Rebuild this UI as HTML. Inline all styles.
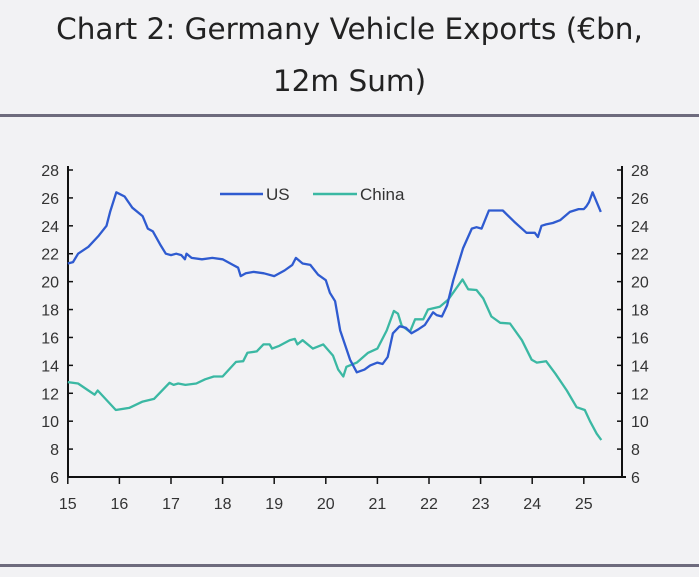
<!DOCTYPE html>
<html><head><meta charset="utf-8"><style>
body{margin:0;width:699px;height:577px;background:#f2f2f4;font-family:"Liberation Sans","DejaVu Sans",sans-serif;overflow:hidden;position:relative}
.title{position:absolute;left:0;width:699px;text-align:center;font-family:"DejaVu Sans",sans-serif;font-size:29.5px;color:#222;line-height:52px;top:3px;font-weight:normal}
.sep{position:absolute;left:0;width:699px;height:3px;background:#6e6b7d}
</style></head><body>
<div class="title">Chart 2: Germany Vehicle Exports (€bn,<br>12m Sum)</div>
<div class="sep" style="top:114px"></div>
<div class="sep" style="top:564px"></div>
<svg id="chart" width="699" height="577" style="position:absolute;left:0;top:0"></svg>
<script>
const usYears=[15.0,15.1,15.2,15.4,15.6,15.75,15.82,15.94,16.1,16.25,16.45,16.55,16.65,16.8,16.9,17.0,17.1,17.2,17.27,17.3,17.4,17.6,17.8,18.0,18.2,18.3,18.35,18.45,18.6,18.8,19.0,19.2,19.35,19.42,19.55,19.7,19.85,20.0,20.08,20.18,20.28,20.47,20.6,20.75,20.86,21.0,21.1,21.2,21.3,21.43,21.55,21.66,21.8,21.92,22.08,22.15,22.25,22.35,22.47,22.66,22.83,22.92,23.02,23.16,23.43,23.65,23.89,24.05,24.11,24.18,24.27,24.4,24.54,24.73,24.9,25.0,25.05,25.1,25.17,25.33];
const usValues=[21.3,21.4,22.0,22.5,23.3,24.0,25.0,26.4,26.1,25.3,24.7,23.8,23.6,22.6,22.0,21.9,22.0,21.9,21.6,22.0,21.7,21.6,21.7,21.6,21.2,21.0,20.4,20.6,20.7,20.6,20.4,20.8,21.2,21.7,21.3,21.2,20.5,20.1,19.2,18.6,16.5,14.4,13.5,13.7,14.0,14.2,14.1,14.6,16.3,16.8,16.7,16.3,16.6,16.9,17.8,17.6,17.5,18.3,20.1,22.4,23.8,23.9,23.8,25.1,25.1,24.3,23.5,23.5,23.2,24.0,24.1,24.2,24.4,25.0,25.2,25.2,25.4,25.7,26.4,25.0];
const cnYears=[15.0,15.2,15.4,15.52,15.58,15.93,16.19,16.45,16.67,16.97,17.05,17.14,17.28,17.49,17.66,17.83,18.0,18.26,18.4,18.48,18.66,18.79,18.91,18.96,19.1,19.3,19.4,19.45,19.55,19.75,19.95,20.14,20.24,20.34,20.4,20.6,20.82,21.0,21.18,21.32,21.4,21.47,21.63,21.73,21.89,21.98,22.21,22.37,22.65,22.76,22.92,23.05,23.21,23.38,23.57,23.8,23.99,24.09,24.27,24.45,24.67,24.86,25.02,25.12,25.25,25.34];
const cnValues=[12.8,12.7,12.2,11.9,12.2,10.8,10.95,11.4,11.6,12.75,12.6,12.7,12.6,12.7,13.0,13.2,13.2,14.25,14.3,14.9,15.0,15.5,15.5,15.2,15.4,15.8,15.9,15.5,15.8,15.2,15.5,14.7,13.7,13.2,13.9,14.2,14.9,15.2,16.5,17.9,17.7,16.85,16.4,17.3,17.3,18.0,18.2,18.7,20.15,19.45,19.4,18.8,17.5,17.05,17.0,15.8,14.4,14.2,14.3,13.4,12.2,11.0,10.8,10.0,9.1,8.65];
const yTicks=[6,8,10,12,14,16,18,20,22,24,26,28];
const xTicks=[15,16,17,18,19,20,21,22,23,24,25];
const NS="http://www.w3.org/2000/svg";
const svg=document.getElementById('chart');
const X0=68,X1=622,Y0=477,Y1=170;
function xs(v){return 67.8+(v-15)*51.6;}
function ys(v){return Y0-(v-6)*(Y0-Y1)/22;}
function mk(t,a){const e=document.createElementNS(NS,t);for(const k in a)e.setAttribute(k,a[k]);svg.appendChild(e);return e;}
let e;
e=mk('line',{x1:X0,y1:Y1-4,x2:X0,y2:Y0,stroke:'#111','stroke-width':2});


e=mk('line',{x1:X1,y1:Y1-4,x2:X1,y2:Y0,stroke:'#111','stroke-width':2});


e=mk('line',{x1:X0,y1:Y0,x2:X1+4,y2:Y0,stroke:'#111','stroke-width':2});


yTicks.forEach(v=>{
  const y=ys(v);
  mk('line',{x1:X0,y1:y,x2:X0+5,y2:y,stroke:'#111','stroke-width':1.5});
  mk('line',{x1:X1-5,y1:y,x2:X1,y2:y,stroke:'#111','stroke-width':1.5});
  e=mk('text',{x:X0-9,y:y+6,'text-anchor':'end','font-size':16,fill:'#333'});e.textContent=v;
  
  
  e=mk('text',{x:X1+9,y:y+6,'text-anchor':'start','font-size':16,fill:'#333'});e.textContent=v;
  
  
});
xTicks.forEach(v=>{
  const x=xs(v);
  mk('line',{x1:x,y1:Y0,x2:x,y2:Y0+7,stroke:'#111','stroke-width':1.5});
  e=mk('text',{x:x,y:Y0+32,'text-anchor':'middle','font-size':16,fill:'#333'});e.textContent=v;
  
  
});
function line(xsArr,vals,col,name){
  const d=xsArr.map((t,i)=>(i?'L':'M')+xs(t).toFixed(1)+','+ys(vals[i]).toFixed(1)).join('');
  const p=mk('path',{d:d,fill:'none',stroke:col,'stroke-width':2.3,'stroke-linejoin':'round'});
  
  
}
line(cnYears,cnValues,'#3bb8a3','china-line');
line(usYears,usValues,'#2f5bd0','us-line');
e=mk('line',{x1:220,y1:194,x2:263,y2:194,stroke:'#2f5bd0','stroke-width':2.5});


e=mk('text',{x:266,y:200,'font-size':17,fill:'#333'});e.textContent='US';


e=mk('line',{x1:313,y1:194,x2:357,y2:194,stroke:'#3bb8a3','stroke-width':2.5});


e=mk('text',{x:360,y:200,'font-size':17,fill:'#333'});e.textContent='China';


</script>
</body></html>
